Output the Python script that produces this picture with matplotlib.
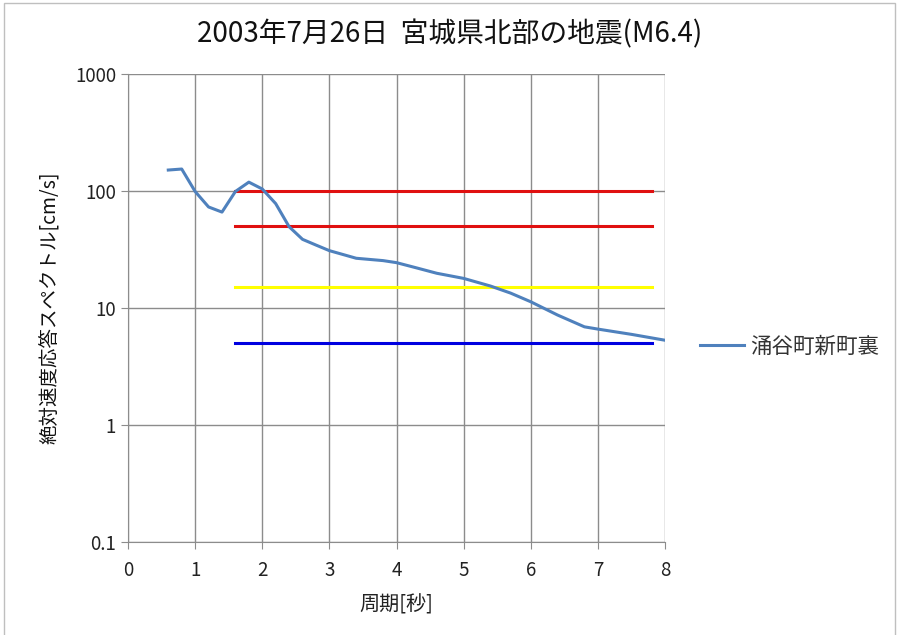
import matplotlib
matplotlib.use("Agg")
import matplotlib.pyplot as plt
from matplotlib.patches import Rectangle

plt.rcParams['font.family'] = ['Noto Sans CJK JP', 'DejaVu Sans']

# Absolute velocity response spectrum at 涌谷町新町裏
period = [0.6, 0.8, 1.0, 1.2, 1.4, 1.6, 1.8, 2.0, 2.2, 2.4, 2.6, 2.8, 3.0,
          3.4, 3.8, 4.0, 4.3, 4.6, 5.0, 5.4, 5.7, 6.0, 6.4, 6.8, 7.0, 7.5, 8.0]
velocity = [151, 154, 99, 73, 66, 99, 119, 104, 78, 49.5, 38.6, 34.5, 30.9,
            26.6, 25.4, 24.4, 22.0, 19.8, 17.9, 15.4, 13.4, 11.3, 8.7, 6.9,
            6.6, 5.95, 5.3]
series_name = "涌谷町新町裏"

# Reference levels
ref_levels = [100, 50, 15, 5]
ref_colors = ["#e01010", "#e01010", "#ffff00", "#0000e0"]
ref_start, ref_end = 1.6, 7.8

title = "2003年7月26日  宮城県北部の地震(M6.4)"
xlabel = "周期[秒]"
ylabel = "絶対速度応答スペクトル[cm/s]"
yticks = [0.1, 1, 10, 100, 1000]
ytick_labels = ["0.1", "1", "10", "100", "1000"]
xticks = [0, 1, 2, 3, 4, 5, 6, 7, 8]

fig = plt.figure(figsize=(8.99, 6.35), dpi=100)
fig.patches.append(Rectangle((0.004, -0.01), 0.991, 1.005, transform=fig.transFigure,
                             fill=False, edgecolor="#bfbfbf", linewidth=1.0))
ax = fig.add_axes([0.1424, 0.1465, 0.5973, 0.737])

for lvl, col in zip(ref_levels, ref_colors):
    ax.plot([ref_start, ref_end], [lvl, lvl], color=col, linewidth=2.2, zorder=2)

ax.plot(period, velocity, color="#4f81bd", linewidth=2.2, label=series_name, zorder=3)

ax.set_yscale("log")
ax.set_ylim(0.1, 1000)
ax.set_xlim(0, 8)
ax.set_xticks(xticks)
ax.set_yticks(yticks)
ax.set_yticklabels(ytick_labels)
ax.minorticks_off()
ax.grid(True, which="major", color="#8c8c8c", linewidth=1.0)
ax.set_axisbelow(True)
for s in ["top", "right"]:
    ax.spines[s].set_visible(False)
for s in ["left", "bottom"]:
    ax.spines[s].set_color("#8c8c8c")
ax.tick_params(axis="both", colors="#8c8c8c", length=5, labelsize=13.5,
               labelcolor="#222222")
ax.tick_params(axis="x", pad=8)

ax.set_xlabel(xlabel, fontsize=14.5, color="#222222", labelpad=10)
ax.set_ylabel(ylabel, fontsize=14, color="#111111", labelpad=10)
fig.text(0.5, 0.946, title, ha="center", va="center", fontsize=20, color="#111111")

leg = ax.legend(loc="center left", bbox_to_anchor=(1.03, 0.417), frameon=False,
                fontsize=15.5, handlelength=2.0, handletextpad=0.3)
for t in leg.get_texts():
    t.set_color("#333333")

fig.savefig("out.png", dpi=100)
